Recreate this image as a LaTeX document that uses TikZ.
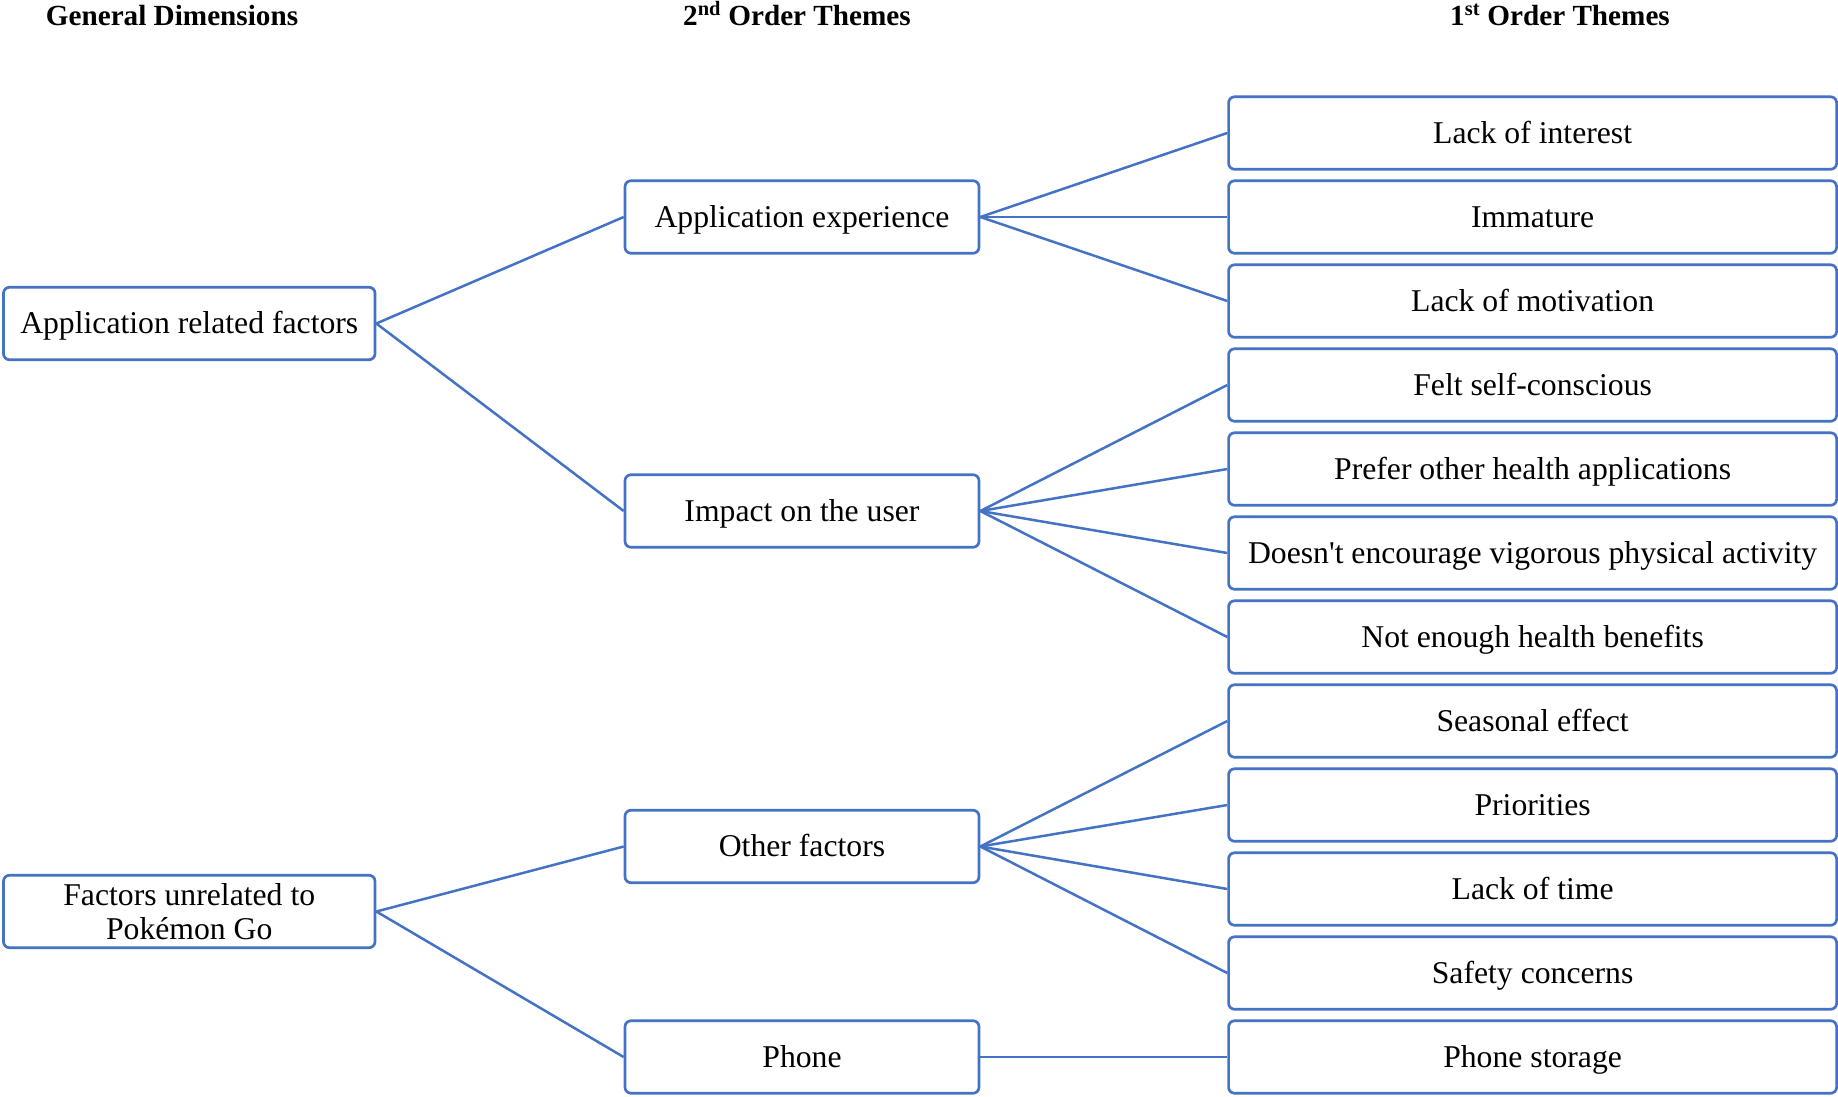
\documentclass[tikz,border=0pt]{standalone}
\usepackage{fontspec}
\setmainfont{Liberation Serif}[Ligatures=TeXOff]
\definecolor{lineblue}{HTML}{4472C4}
\begin{document}
\begin{tikzpicture}[x=1pt,y=-1pt,
  box/.style={draw=lineblue,line width=2.7pt,rounded corners=6pt,fill=white,
    minimum height=72.5pt,inner sep=0pt,align=center,
    font=\fontsize{31.7}{34}\selectfont},
  one/.style={text height=26pt,text depth=5.4pt},
  gbox/.style={box,minimum width=371.5pt},
  mbox/.style={box,one,minimum width=354pt},
  rbox/.style={box,one,minimum width=608pt},
  head/.style={anchor=base,font=\fontsize{29.2}{32}\selectfont\bfseries},
  conn/.style={draw=lineblue,line width=2.5pt}]
\useasboundingbox (0,0) rectangle (1838,1096);

\node[head] (h1) at (172,25) {General Dimensions};
\node[head] (h2) at (797,25) {2\textsuperscript{nd} Order Themes};
\node[head] (h3) at (1560,25) {1\textsuperscript{st} Order Themes};

\node[gbox,one] (g1) at (189.25,323.5) {Application related factors};
\node[gbox] (g2) at (189.25,911.5) {Factors unrelated to\\Pokémon Go};

\node[mbox] (m1) at (802,217) {Application experience};
\node[mbox] (m2) at (802,511) {Impact on the user};
\node[mbox] (m3) at (802,846.5) {Other factors};
\node[mbox] (m4) at (802,1057) {Phone};

\node[rbox] (r1) at (1532.6,133) {Lack of interest};
\node[rbox] (r2) at (1532.6,217) {Immature};
\node[rbox] (r3) at (1532.6,301) {Lack of motivation};
\node[rbox] (r4) at (1532.6,385) {Felt self-conscious};
\node[rbox] (r5) at (1532.6,469) {Prefer other health applications};
\node[rbox] (r6) at (1532.6,553) {Doesn't encourage vigorous physical activity};
\node[rbox] (r7) at (1532.6,637) {Not enough health benefits};
\node[rbox] (r8) at (1532.6,721) {Seasonal effect};
\node[rbox] (r9) at (1532.6,805) {Priorities};
\node[rbox] (r10) at (1532.6,889) {Lack of time};
\node[rbox] (r11) at (1532.6,973) {Safety concerns};
\node[rbox] (r12) at (1532.6,1057) {Phone storage};

\draw[conn] (g1.east) -- (m1.west);
\draw[conn] (g1.east) -- (m2.west);
\draw[conn] (g2.east) -- (m3.west);
\draw[conn] (g2.east) -- (m4.west);
\foreach \r in {r1,r2,r3} \draw[conn] (m1.east) -- (\r.west);
\foreach \r in {r4,r5,r6,r7} \draw[conn] (m2.east) -- (\r.west);
\foreach \r in {r8,r9,r10,r11} \draw[conn] (m3.east) -- (\r.west);
\draw[conn] (m4.east) -- (r12.west);
\end{tikzpicture}
\end{document}
